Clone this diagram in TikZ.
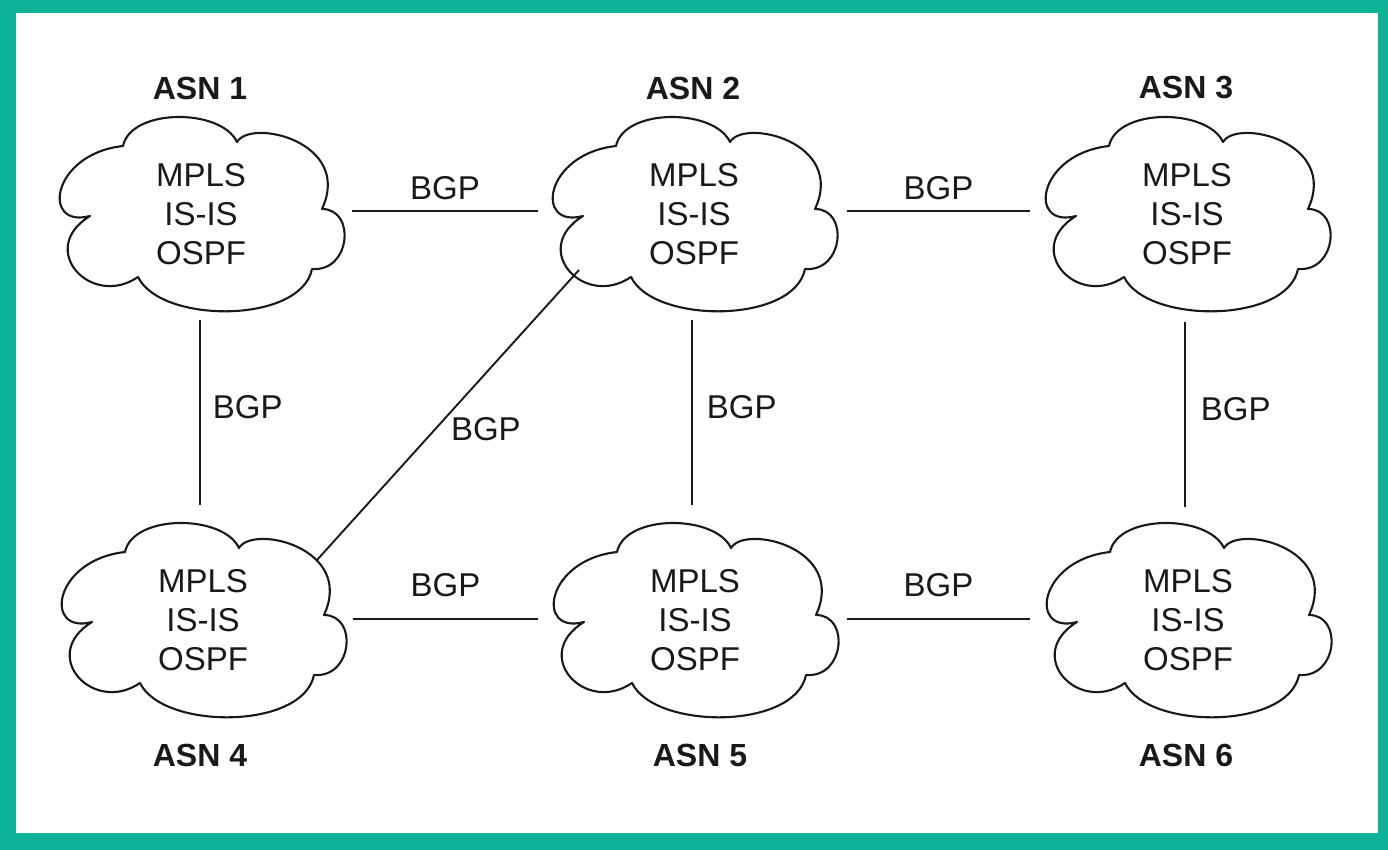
\documentclass[tikz,border=0pt]{standalone}
\usepackage{fontspec}
\setmainfont{Liberation Sans}
\usetikzlibrary{calc}
\definecolor{frameteal}{RGB}{14,178,150}
\definecolor{ink}{RGB}{25,25,25}
\tikzset{
  asnnode/.style={inner sep=0pt, align=center, text=ink, font=\fontsize{33}{39}\selectfont},
  cloudline/.style={draw=ink, line width=2.1pt, line join=round},
  asnlabel/.style={font=\fontsize{32}{36}\selectfont\bfseries, text=ink},
  link/.style={draw=ink, line width=1.9pt},
  bgp/.style={font=\fontsize{33}{36}\selectfont, text=ink, inner sep=0pt}
}
\newcommand{\asncloudat}[1]{%
  \draw[cloudline, shift={(#1.center)}] (-111,2)
    .. controls (-160,15) and (-150,-60) .. (-78,-68)
    .. controls (-70,-106) and (20,-106) .. (36,-72)
    .. controls (50,-96) and (152,-72) .. (121,-5)
    .. controls (155,-5) and (150,58) .. (111,55)
    .. controls (100,110) and (-40,110) .. (-63,63)
    .. controls (-110,95) and (-165,35) .. cycle;}
\begin{document}
\begin{tikzpicture}[x=1pt,y=-1pt]
\useasboundingbox (0,0) rectangle (1388,850);
\fill[frameteal] (0,0) rectangle (1388,850);
\fill[white] (16,13) rectangle (1378,833);

\node[asnnode] (c1) at (201,214) {MPLS\\IS-IS\\OSPF};
\node[asnnode] (c2) at (694,214) {MPLS\\IS-IS\\OSPF};
\node[asnnode] (c3) at (1187,214) {MPLS\\IS-IS\\OSPF};
\node[asnnode] (c4) at (203,620) {MPLS\\IS-IS\\OSPF};
\node[asnnode] (c5) at (695,620) {MPLS\\IS-IS\\OSPF};
\node[asnnode] (c6) at (1188,620) {MPLS\\IS-IS\\OSPF};
\asncloudat{c1}
\asncloudat{c2}
\asncloudat{c3}
\asncloudat{c4}
\asncloudat{c5}
\asncloudat{c6}

\node[asnlabel] (l1) at (200,88) {ASN 1};
\node[asnlabel] (l2) at (693,88) {ASN 2};
\node[asnlabel] (l3) at (1186,88) {ASN 3};
\node[asnlabel] (l4) at (200,755) {ASN 4};
\node[asnlabel] (l5) at (700,755) {ASN 5};
\node[asnlabel] (l6) at (1186,755) {ASN 6};

% horizontal links
\draw[link] ($(c1.center)+(151,-3)$) -- ($(c2.center)+(-156,-3)$)
  node[bgp, midway, above=10pt] {BGP};
\draw[link] ($(c2.center)+(153,-3)$) -- ($(c3.center)+(-157,-3)$)
  node[bgp, midway, above=10pt] {BGP};
\draw[link] ($(c4.center)+(150,-1)$) -- ($(c5.center)+(-157,-1)$)
  node[bgp, midway, above=21pt] {BGP};
\draw[link] ($(c5.center)+(152,-1)$) -- ($(c6.center)+(-158,-1)$)
  node[bgp, midway, above=21pt] {BGP};

% vertical links
\draw[link] ($(c1.center)+(-1,106)$) -- ($(c4.center)+(-3,-115)$)
  node[bgp, pos=0.47, right=12pt] {BGP};
\draw[link] ($(c2.center)+(-2,106)$) -- ($(c5.center)+(-3,-115)$)
  node[bgp, pos=0.47, right=14pt] {BGP};
\draw[link] ($(c3.center)+(-2,108)$) -- ($(c6.center)+(-3,-113)$)
  node[bgp, pos=0.47, right=15pt] {BGP};

% diagonal link
\draw[link] ($(c2.center)+(-115,56)$) -- ($(c4.center)+(114,-60)$)
  node[bgp, pos=0.55, xshift=51pt] {BGP};
\end{tikzpicture}
\end{document}
